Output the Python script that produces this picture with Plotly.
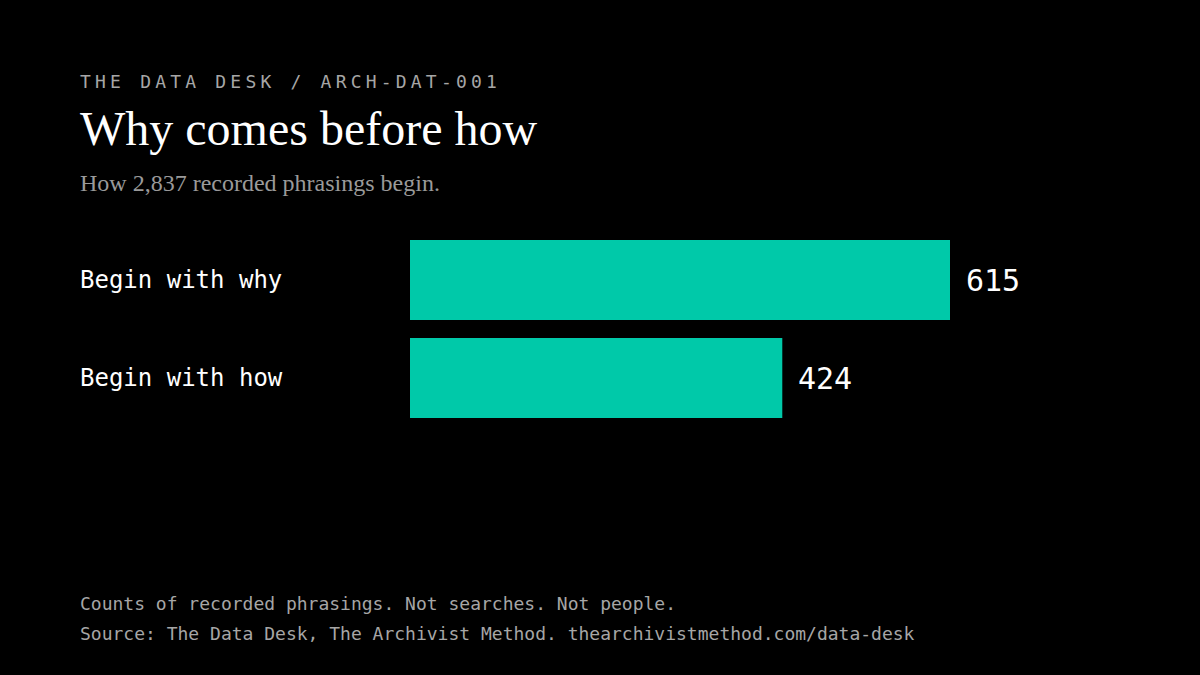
import plotly.graph_objects as go

categories = ["Begin with why", "Begin with how"]
values = [615, 424]

kicker = "THE DATA DESK / ARCH-DAT-001"
title = "Why comes before how"
subtitle = "How 2,837 recorded phrasings begin."
notes = [
    "Counts of recorded phrasings. Not searches. Not people.",
    "Source: The Data Desk, The Archivist Method. thearchivistmethod.com/data-desk",
]

W, H = 1200, 675
ML, MR, MT, MB = 410, 150, 231, 248
PW = W - ML - MR
PH = H - MT - MB
XMAX = PW * 615 / 540.0

BAR = "#00c9a9"
MONO = "DejaVu Sans Mono"
SERIF = "Liberation Serif"


def py(pix):
    return (H - MB - pix) / PH


def px(pix):
    return (pix - ML) / PW


fig = go.Figure(
    go.Bar(
        x=values,
        y=categories,
        orientation="h",
        marker=dict(color=BAR, line=dict(width=0)),
        hoverinfo="skip",
    )
)

ann = []
# category labels
for c in categories:
    ann.append(dict(x=px(78), xref="paper", y=c, yref="y", text=c, showarrow=False,
                    xanchor="left", yanchor="middle",
                    font=dict(family=MONO, size=24, color="#ffffff")))
# value labels
for c, v in zip(categories, values):
    ann.append(dict(x=v, xref="x", y=c, yref="y", text=str(v), showarrow=False,
                    xanchor="left", yanchor="middle", xshift=14,
                    font=dict(family=MONO, size=30, color="#ffffff")))
# header
ann.append(dict(x=px(78), xref="paper", y=py(81), yref="paper", text=kicker, showarrow=False,
                xanchor="left", yanchor="middle",
                font=dict(family=MONO, size=18, color="#a6a6a6")))
ann.append(dict(x=px(78), xref="paper", y=py(128), yref="paper", text=title, showarrow=False,
                xanchor="left", yanchor="middle",
                font=dict(family=SERIF, size=48, color="#ffffff")))
ann.append(dict(x=px(78), xref="paper", y=py(183), yref="paper", text=subtitle, showarrow=False,
                xanchor="left", yanchor="middle",
                font=dict(family=SERIF, size=24, color="#9a9a9a")))
for i, n in enumerate(notes):
    ann.append(dict(x=px(78), xref="paper", y=py(603 + 30 * i), yref="paper", text=n, showarrow=False,
                    xanchor="left", yanchor="middle",
                    font=dict(family=MONO, size=18, color="#a6a6a6")))

fig.update_layout(
    width=W, height=H,
    margin=dict(l=ML, r=MR, t=MT, b=MB),
    paper_bgcolor="#000000", plot_bgcolor="#000000",
    showlegend=False,
    bargap=0.184,
    xaxis=dict(range=[0, XMAX], visible=False, fixedrange=True),
    yaxis=dict(categoryorder="array", categoryarray=categories, autorange="reversed",
               visible=False, fixedrange=True),
    annotations=ann,
)

post = """
(function(){
  document.body.style.margin = '0';
  document.body.style.padding = '0';
  document.body.style.background = '#000';
  document.documentElement.style.background = '#000';
  function fix(){
    document.querySelectorAll('.annotation-text').forEach(function(t){
      if (t.textContent.indexOf('THE DATA DESK') === 0 && !t.__spaced) {
        var b0 = t.getBBox();
        t.style.letterSpacing = '4.2px';
        var b1 = t.getBBox();
        var x = parseFloat(t.getAttribute('x') || '0');
        t.setAttribute('x', x + (b0.x - b1.x));
        t.__spaced = true;
      }
    });
  }
  fix();
  var gd = document.getElementsByClassName('plotly-graph-div')[0];
  if (gd && gd.on) { gd.on('plotly_afterplot', fix); }
})();
"""

fig.write_html("out.html", post_script=post, config={"displayModeBar": False})
